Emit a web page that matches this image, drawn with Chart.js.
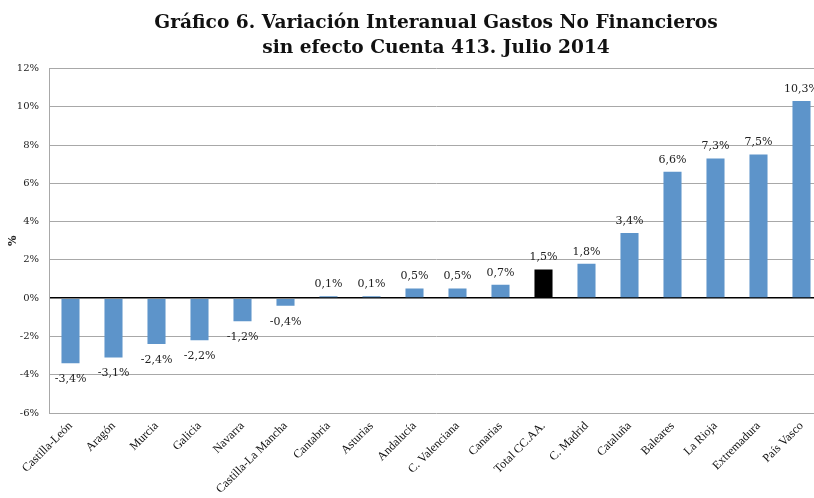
<!DOCTYPE html>
<html>
<head>
<meta charset="utf-8">
<script src="https://cdn.jsdelivr.net/npm/chart.js@4/dist/chart.umd.min.js"></script>
<style>
    html, body { margin: 0; padding: 0; background: #fff; overflow: hidden; }
    #wrap { width: 823px; height: 498px; position: relative; }
</style>
</head>
<body>
<div id="wrap"><canvas id="chart"></canvas></div>
<script>
const regiones = ['Castilla-León', 'Aragón', 'Murcia', 'Galicia', 'Navarra', 'Castilla-La Mancha',
    'Cantabria', 'Asturias', 'Andalucía', 'C. Valenciana', 'Canarias', 'Total CC.AA.',
    'C. Madrid', 'Cataluña', 'Baleares', 'La Rioja', 'Extremadura', 'País Vasco'];
const variacion = [-3.4, -3.1, -2.4, -2.2, -1.2, -0.4, 0.1, 0.1, 0.5, 0.5, 0.7, 1.5, 1.8, 3.4, 6.6, 7.3, 7.5, 10.3];
const ejeMin = -6;
const ejeMax = 12;
const ejePaso = 2;
const tituloLineas = ['Gráfico 6. Variación Interanual Gastos No Financieros', 'sin efecto Cuenta 413. Julio 2014'];

const AZUL = '#5d94ca';
const NEGRO = '#000000';

const colores = regiones.map(r => r === 'Total CC.AA.' ? NEGRO : AZUL);

function fmt(v) {
    return v.toFixed(1).replace('.', ',') + '%';
}

// etiquetas de valor encima / debajo de cada barra
const etiquetasPlugin = {
    id: 'etiquetas',
    afterDatasetsDraw: function(chart) {
        const ctx = chart.ctx;
        const meta = chart.getDatasetMeta(0);
        ctx.save();
        ctx.font = '11px "DejaVu Serif", Georgia, serif';
        ctx.fillStyle = '#222';
        ctx.textAlign = 'center';
        ctx.textBaseline = 'middle';
        meta.data.forEach((bar, i) => {
            const v = variacion[i];
            const y = v >= 0 ? bar.y - 12 : bar.y + 16;
            ctx.fillText(fmt(v), bar.x, y);
        });
        ctx.restore();
    }
};

new Chart(document.getElementById('chart'), {
    type: 'bar',
    data: {
        labels: regiones,
        datasets: [{
            data: variacion,
            backgroundColor: colores,
            borderWidth: 0,
            barPercentage: 0.42,
            categoryPercentage: 1.0
        }]
    },
    options: {
        responsive: true,
        maintainAspectRatio: false,
        animation: false,
        layout: { padding: { top: 7, right: 0, left: 0, bottom: 0 } },
        scales: {
            x: {
                grid: { display: false, drawTicks: false },
                border: { display: false },
                ticks: {
                    maxRotation: 45,
                    minRotation: 45,
                    padding: 6,
                    autoSkip: false,
                    color: '#111',
                    font: { family: '"Liberation Serif", "Times New Roman", serif', size: 12 }
                },
                afterFit: function(scale) { scale.height = 85; }
            },
            y: {
                min: ejeMin,
                max: ejeMax,
                ticks: {
                    stepSize: ejePaso,
                    padding: 10,
                    color: '#222',
                    font: { family: '"DejaVu Serif", Georgia, serif', size: 10 },
                    callback: v => v + '%'
                },
                grid: {
                    drawTicks: false,
                    lineWidth: ctx => ctx.tick && ctx.tick.value === 0 ? 1.6 : 1,
                    color: ctx => ctx.tick && ctx.tick.value === 0 ? '#000' : '#a8a8a8'
                },
                border: { display: true, color: '#a8a8a8', width: 1 },
                title: {
                    display: true,
                    text: '%',
                    color: '#222',
                    padding: { top: 7, bottom: 0 },
                    font: { family: '"DejaVu Serif", Georgia, serif', size: 11, weight: 'bold' }
                },
                afterFit: function(scale) { scale.width = 49; }
            }
        },
        plugins: {
            legend: { display: false },
            tooltip: { enabled: false },
            title: {
                display: true,
                fullSize: false,
                text: tituloLineas,
                color: '#111',
                padding: { top: 4, bottom: 8 },
                font: { family: '"DejaVu Serif", Georgia, serif', size: 18.6, weight: 'bold', lineHeight: 1.33 }
            }
        }
    },
    plugins: [etiquetasPlugin]
});
</script>
</body>
</html>
